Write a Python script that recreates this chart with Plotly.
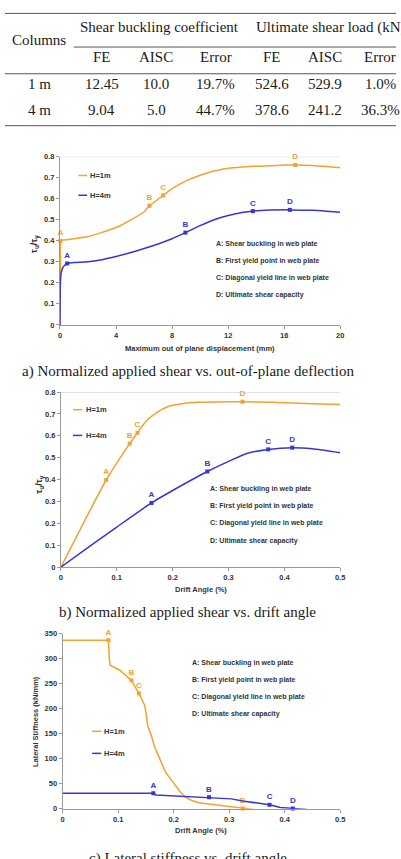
import plotly.graph_objects as go

W, H = 401, 859
def px(x): return x / W
def py(y): return 1 - y / H

ORANGE = "#F4A12E"
BLUE = "#3636D4"
DARK = "#333333"

# ---------------- Table data ----------------
tbl_rows = ["1 m", "4 m"]
tbl_groups = ["Shear buckling coefficient", "Ultimate shear load (kN)"]
tbl_sub = ["FE", "AISC", "Error", "FE", "AISC", "Error"]
tbl_vals = [["12.45", "10.0", "19.7%", "524.6", "529.9", "1.0%"],
            ["9.04", "5.0", "44.7%", "378.6", "241.2", "36.3%"]]

# ---------------- Chart a data (displacement mm vs tau_u/tau_y) ----------------
a_h1_x = [0, 0.03, 0.08, 0.5, 1, 2, 3, 4, 5, 6, 6.38, 7, 7.36, 8, 9, 10, 11, 12, 13, 14, 15, 16, 16.78, 18, 19, 20]
a_h1_y = [0, 0.30, 0.40, 0.405, 0.41, 0.42, 0.44, 0.463, 0.497, 0.538, 0.566, 0.598, 0.616, 0.648, 0.685, 0.712, 0.732, 0.745, 0.751, 0.755, 0.757, 0.76, 0.761, 0.758, 0.753, 0.747]
a_h4_x = [0, 0.03, 0.08, 0.2, 0.35, 0.51, 1, 2, 3, 4, 5, 6, 7, 8, 8.95, 10, 11, 12, 13, 13.76, 15, 16.4, 18, 19, 20]
a_h4_y = [0, 0.20, 0.245, 0.272, 0.285, 0.292, 0.297, 0.30, 0.31, 0.325, 0.343, 0.363, 0.385, 0.41, 0.439, 0.472, 0.50, 0.52, 0.534, 0.541, 0.546, 0.547, 0.545, 0.541, 0.536]
a_h1_pts_x = [0.03, 6.38, 7.36, 16.78]
a_h1_pts_y = [0.40, 0.566, 0.616, 0.761]
a_h4_pts_x = [0.51, 8.95, 13.76, 16.4]
a_h4_pts_y = [0.292, 0.439, 0.541, 0.547]

# ---------------- Chart b data (drift angle % vs tau_u/tau_y) ----------------
b_h1_x = [0, 0.04, 0.081, 0.123, 0.137, 0.152, 0.17, 0.193, 0.217, 0.246, 0.28, 0.325, 0.35, 0.4, 0.45, 0.5]
b_h1_y = [0, 0.20, 0.398, 0.564, 0.614, 0.666, 0.704, 0.735, 0.747, 0.753, 0.755, 0.756, 0.755, 0.751, 0.747, 0.743]
b_h4_x = [0, 0.05, 0.1, 0.162, 0.211, 0.262, 0.305, 0.334, 0.371, 0.414, 0.45, 0.5]
b_h4_y = [0, 0.092, 0.183, 0.293, 0.366, 0.437, 0.489, 0.52, 0.538, 0.546, 0.541, 0.523]
b_h1_pts_x = [0.081, 0.123, 0.137, 0.325]
b_h1_pts_y = [0.398, 0.564, 0.614, 0.756]
b_h4_pts_x = [0.162, 0.262, 0.371, 0.414]
b_h4_pts_y = [0.293, 0.437, 0.538, 0.546]

# ---------------- Chart c data (drift angle % vs lateral stiffness) ----------------
c_h1_x = [0, 0.0825, 0.084, 0.0855, 0.103, 0.1238, 0.1374, 0.1474, 0.1504, 0.1533, 0.1592, 0.1651, 0.1739, 0.1798, 0.1857, 0.1946, 0.2034, 0.2123, 0.2211, 0.2329, 0.2447, 0.2742, 0.3037, 0.3243, 0.345]
c_h1_y = [337, 337, 300, 287, 277, 256.5, 230.8, 207.7, 191.2, 164.8, 148.3, 125.3, 102.2, 89, 72.5, 59.3, 46.2, 33, 23.1, 16.5, 11.9, 7.9, 4.6, 0.5, -1.3]
c_h4_x = [0, 0.1633, 0.168, 0.215, 0.2636, 0.3037, 0.327, 0.3726, 0.392, 0.4145, 0.44]
c_h4_y = [31, 31, 27.7, 25, 23.1, 19.8, 15.2, 7.9, 2.6, 0.5, -1.5]
c_h1_pts_x = [0.0825, 0.1238, 0.1374, 0.3243]
c_h1_pts_y = [337, 256.5, 230.8, 0.5]
c_h4_pts_x = [0.1633, 0.2636, 0.3726, 0.4145]
c_h4_pts_y = [31, 23.1, 7.9, 0.5]

pt_labels = ["A", "B", "C", "D"]
series_names = ["H=1m", "H=4m"]
notes = ["A: Shear buckling in web plate", "B: First yield point in web plate",
         "C: Diagonal yield line in web plate", "D: Ultimate shear capacity"]
captions = ["a) Normalized applied shear vs. out-of-plane deflection",
            "b) Normalized applied shear vs. drift angle",
            "c) Lateral stiffness vs. drift angle"]

fig = go.Figure()

def add_series(xs, ys, px_, py_, color, xa, ya, smooth=True):
    line = dict(color=color, width=1.5)
    if smooth:
        line.update(shape="spline", smoothing=0.6)
    fig.add_trace(go.Scatter(x=xs, y=ys, mode="lines", line=line,
                             xaxis=xa, yaxis=ya, showlegend=False, hoverinfo="skip"))
    fig.add_trace(go.Scatter(x=px_, y=py_, mode="markers+text", text=pt_labels, textposition="top center",
                             marker=dict(color=color, size=4, symbol="square"),
                             textfont=dict(family="Liberation Sans", size=8, color=color, weight="bold"),
                             cliponaxis=False, xaxis=xa, yaxis=ya, showlegend=False, hoverinfo="skip"))

add_series(a_h1_x, a_h1_y, a_h1_pts_x, a_h1_pts_y, ORANGE, "x", "y")
add_series(a_h4_x, a_h4_y, a_h4_pts_x, a_h4_pts_y, BLUE, "x", "y")
add_series(b_h1_x, b_h1_y, b_h1_pts_x, b_h1_pts_y, ORANGE, "x2", "y2")
add_series(b_h4_x, b_h4_y, b_h4_pts_x, b_h4_pts_y, BLUE, "x2", "y2")
add_series(c_h1_x, c_h1_y, c_h1_pts_x, c_h1_pts_y, ORANGE, "x3", "y3", smooth=False)
add_series(c_h4_x, c_h4_y, c_h4_pts_x, c_h4_pts_y, BLUE, "x3", "y3", smooth=False)

tickfont = dict(family="Liberation Sans", size=7.5, color=DARK, weight="bold")
def ax(domain, rng, dtick, anchor):
    return dict(domain=domain, range=rng, dtick=dtick, anchor=anchor, showline=True, linecolor="#999",
                linewidth=1, ticks="outside", ticklen=3, tickcolor="#999", showgrid=False, zeroline=False,
                tickfont=tickfont, fixedrange=True)

fig.update_layout(
    width=W, height=H, margin=dict(l=0, r=0, t=0, b=0),
    paper_bgcolor="white", plot_bgcolor="white",
    xaxis=ax([px(59), px(344.3)], [0, 20], 4, "y"),
    yaxis=ax([py(324.3), py(154.3)], [0, 0.8], 0.1, "x"),
    xaxis2=ax([px(60), px(344.3)], [0, 0.5], 0.1, "y2"),
    yaxis2=ax([py(569), py(392.2)], [0, 0.8], 0.1, "x2"),
    xaxis3=ax([px(61.7), px(344.3)], [0, 0.5], 0.1, "y3"),
    yaxis3=ax([py(813.3), py(636.4)], [0, 350], 50, "x3"),
)

shapes = []
annots = []
serif = dict(family="Liberation Serif", size=15, color="#1a1a1a")
sans = dict(family="Liberation Sans", size=7.5, color=DARK, weight="bold")

# top borders for charts a and b
shapes.append(dict(type="line", xref="x", yref="y", x0=0, x1=20, y0=0.8, y1=0.8, line=dict(color="#cccccc", width=1)))
shapes.append(dict(type="line", xref="x2", yref="y2", x0=0, x1=0.5, y0=0.8, y1=0.8, line=dict(color="#cccccc", width=1)))

# ---------------- Table ----------------
for (x0, yline) in [(3, 9.5), (73, 43.5), (3, 70.5), (3, 123)]:
    shapes.append(dict(type="line", xref="paper", yref="paper", x0=px(x0), x1=1.0, y0=py(yline), y1=py(yline),
                       line=dict(color="#555", width=1)))
annots.append(dict(text="Columns", x=px(38), y=py(36.7), xanchor="center", yanchor="middle", font=serif))
annots.append(dict(text=tbl_groups[0], x=px(160.8), y=py(23.3), xanchor="center", yanchor="middle", font=serif))
annots.append(dict(text=tbl_groups[1], x=px(256.7), y=py(23.3), xanchor="left", yanchor="middle", font=serif))
col_x = [101.7, 157, 217.5, 275, 328.3, 385]
for cx, s in zip(col_x, tbl_sub):
    annots.append(dict(text=s, x=px(cx), y=py(53.3), xanchor="center", yanchor="middle", font=serif))
for ry, rlab, vals in zip([81, 107.3], tbl_rows, tbl_vals):
    annots.append(dict(text=rlab, x=px(38), y=py(ry), xanchor="center", yanchor="middle", font=serif))
    for cx, v in zip(col_x, vals):
        annots.append(dict(text=v, x=px(cx), y=py(ry), xanchor="center", yanchor="middle", font=serif))

# ---------------- Captions ----------------
for cy, cap in zip([371, 615, 864], captions):
    annots.append(dict(text=cap, x=px(189), y=py(cy), xanchor="center", yanchor="middle", font=serif))

# ---------------- Legends, notes, axis titles ----------------
legend_cfg = [  # (line x0, x1, y1m, y4m, text x)
    (77.7, 86.7, 173.3, 193.3, 88),
    (72.3, 81.7, 410, 436, 83),
    (91.7, 101, 735, 757.3, 102),
]
for (x0, x1, y1, y2, tx) in legend_cfg:
    for yy, col, nm in [(y1, ORANGE, series_names[0]), (y2, BLUE, series_names[1])]:
        shapes.append(dict(type="line", xref="paper", yref="paper", x0=px(x0), x1=px(x1), y0=py(yy), y1=py(yy),
                           line=dict(color=col, width=1.5)))
        annots.append(dict(text=nm, x=px(tx), y=py(yy), xanchor="left", yanchor="middle", font=sans))

notes_cfg = [(216, [242.3, 259.3, 276.7, 293.7]), (209.3, [490, 507.3, 525, 542.3]), (191.7, [665.7, 683, 700.3, 717.3])]
for nx, ys in notes_cfg:
    for yy, t in zip(ys, notes):
        annots.append(dict(text=t, x=px(nx), y=py(yy), xanchor="left", yanchor="middle",
                           font=dict(family="Liberation Sans", size=7, color=DARK, weight="bold")))

xtitles = [("Maximum out of plane displacement (mm)", 201.7, 348), ("Drift Angle (%)", 202.5, 591.7), ("Drift Angle (%)", 203, 835.7)]
for t, xx, yy in xtitles:
    annots.append(dict(text=t, x=px(xx), y=py(yy), xanchor="center", yanchor="middle", font=sans))
ytitles = [("τ<sub>u</sub>/τ<sub>y</sub>", 34.3, 243), ("τ<sub>u</sub>/τ<sub>y</sub>", 38.5, 486), ("Lateral Stiffness (kN/mm)", 34.3, 725)]
for i, (t, xx, yy) in enumerate(ytitles):
    f = dict(sans) if i == 2 else dict(family="Liberation Sans", size=9, color=DARK, weight="bold")
    annots.append(dict(text=t, x=px(xx), y=py(yy), xanchor="center", yanchor="middle", textangle=-90, font=f))

for a in annots:
    a.setdefault("xref", "paper"); a.setdefault("yref", "paper"); a["showarrow"] = False
fig.update_layout(shapes=shapes, annotations=annots)
fig.write_html("out.html")
